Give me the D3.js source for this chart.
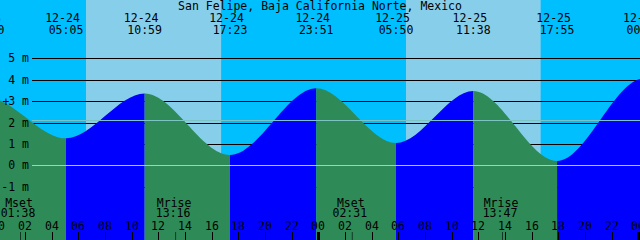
<!DOCTYPE html>
<html>
<head>
<meta charset="utf-8">
<script src="https://cdn.jsdelivr.net/npm/d3@7"></script>
<style>
body { margin: 0; background: #fff; }
svg { display: block; }
text { font-family: "DejaVu Sans Mono", monospace; font-size: 11.5px; fill: #000; }
</style>
</head>
<body>
<div id="chart"></div>
<script>
const title = "San Felipe, Baja California Norte, Mexico"

// tide extremes (high / low), incl. ones just off the edges
const tideTimes = ["2023-12-23 17:00", "2023-12-23 23:10", "2023-12-24 05:05", "2023-12-24 10:59", "2023-12-24 17:23",
                   "2023-12-24 23:51", "2023-12-25 05:50", "2023-12-25 11:38", "2023-12-25 17:55", "2023-12-26 00:25",
                   "2023-12-26 06:40"]
const tideHeights = [0.6, 3.17, 1.26, 3.35, 0.48, 3.6, 1.04, 3.47, 0.2, 4.05, 1.2]

const sunrises = ["2023-12-24 06:35", "2023-12-25 06:35"]
const sunsets = ["2023-12-24 16:43", "2023-12-25 16:41"]

const moonTimes = ["2023-12-24 01:38", "2023-12-24 13:16", "2023-12-25 02:31", "2023-12-25 13:47"]
const moonEvents = ["Mset", "Mrise", "Mset", "Mrise"]

const depthTicks = [-1, 0, 1, 2, 3, 4, 5]
const meanLevel = 2.12

const width = 640
const height = 240
const parse = d3.timeParse("%Y-%m-%d %H:%M")

const tides = tideTimes.map((t, i) => ({ time: parse(t), level: tideHeights[i] }))

const x = d3.scaleTime()
    .domain([parse("2023-12-24 00:08"), parse("2023-12-26 00:08")])
    .range([0, width])

const y = d3.scaleLinear()
    .domain([0, 5])
    .range([165.3, 58.3])

const svg = d3.select("#chart")
    .append("svg")
    .attr("width", width)
    .attr("height", height)
    .attr("viewBox", [0, 0, width, height])

// sky: night everywhere, day between sunrise and sunset
svg.append("rect")
    .attr("width", width)
    .attr("height", height)
    .attr("fill", "#00bfff")

svg.append("g")
    .selectAll("rect")
    .data(sunrises)
    .join("rect")
    .attr("x", d => x(parse(d)))
    .attr("y", 0)
    .attr("width", (d, i) => x(parse(sunsets[i])) - x(parse(d)))
    .attr("height", height)
    .attr("fill", "#87ceeb")

// depth lines (hidden by the water)
svg.append("g")
    .selectAll("line")
    .data(depthTicks.filter(d => d !== 0))
    .join("line")
    .attr("x1", 32)
    .attr("x2", width)
    .attr("y1", d => Math.round(y(d)) + 0.5)
    .attr("y2", d => Math.round(y(d)) + 0.5)
    .attr("stroke", "#000")

// water: one area, clipped into rising (blue) and falling (green) pieces
const area = d3.area()
    .x(d => x(d.time))
    .y0(height)
    .y1(d => y(d.level))
    .curve(d3.curveMonotoneX)

const segments = d3.pairs(tides)
const defs = svg.append("defs")
segments.forEach((s, i) => {
    defs.append("clipPath")
        .attr("id", "seg" + i)
        .append("rect")
        .attr("x", x(s[0].time))
        .attr("y", 0)
        .attr("width", x(s[1].time) - x(s[0].time))
        .attr("height", height)
})

svg.append("g")
    .selectAll("path")
    .data(segments)
    .join("path")
    .attr("d", area(tides))
    .attr("clip-path", (d, i) => `url(#seg${i})`)
    .attr("fill", d => d[1].level > d[0].level ? "#0000ff" : "#2e8b57")

// datum and mean level lines
svg.append("line")
    .attr("x1", 32).attr("x2", width)
    .attr("y1", Math.round(y(0)) + 0.5).attr("y2", Math.round(y(0)) + 0.5)
    .attr("stroke", "#8fd3e6")

svg.append("line")
    .attr("x1", 32).attr("x2", width)
    .attr("y1", Math.round(y(meanLevel)) + 0.5).attr("y2", Math.round(y(meanLevel)) + 0.5)
    .attr("stroke", "#7cc4c4")

// depth labels
svg.append("g")
    .selectAll("text")
    .data(depthTicks)
    .join("text")
    .attr("x", 29)
    .attr("y", d => y(d) + 4)
    .attr("text-anchor", "end")
    .text(d => d + " m")

svg.append("text")
    .attr("x", 6)
    .attr("y", y(3) + 5)
    .attr("text-anchor", "middle")
    .text("+")

// title
svg.append("text")
    .attr("x", width / 2)
    .attr("y", 9.5)
    .attr("text-anchor", "middle")
    .text(title)

// tide event labels
const fmtDate = d3.timeFormat("%m-%d")
const fmtTime = d3.timeFormat("%H:%M")
const shown = tides.filter(d => x(d.time) > -40 && x(d.time) < width + 40)

const tideLabels = svg.append("g")
    .selectAll("g")
    .data(shown)
    .join("g")
    .attr("transform", d => `translate(${x(d.time)},0)`)

tideLabels.append("text")
    .attr("x", -3.5)
    .attr("y", 22)
    .attr("text-anchor", "middle")
    .text(d => fmtDate(d.time))

tideLabels.append("text")
    .attr("y", 34)
    .attr("text-anchor", "middle")
    .text(d => fmtTime(d.time))

// moon events
const moon = svg.append("g")
    .selectAll("g")
    .data(moonTimes)
    .join("g")
    .attr("transform", d => `translate(${x(parse(d))},0)`)

moon.append("text")
    .attr("x", -1)
    .attr("y", 207)
    .attr("text-anchor", "middle")
    .text((d, i) => moonEvents[i])

moon.append("text")
    .attr("x", -2)
    .attr("y", 217)
    .attr("text-anchor", "middle")
    .text(d => fmtTime(parse(d)))

moon.append("line")
    .attr("x1", 0.5).attr("x2", 0.5)
    .attr("y1", 232).attr("y2", height)
    .attr("stroke", "#000")
    .attr("stroke-opacity", 0.6)

// hour ticks
const hours = d3.timeHour.every(2).range(parse("2023-12-24 00:00"), parse("2023-12-26 01:00"))
const hourTicks = svg.append("g")
    .selectAll("g")
    .data(hours)
    .join("g")
    .attr("transform", d => `translate(${Math.round(x(d))},0)`)

hourTicks.append("text")
    .attr("y", 229.5)
    .attr("text-anchor", "middle")
    .text(d => d3.timeFormat("%H")(d))

hourTicks.append("line")
    .attr("x1", 0.5).attr("x2", 0.5)
    .attr("y1", 232).attr("y2", height)
    .attr("stroke", "#000")
    .attr("stroke-width", d => d.getHours() === 0 ? 3 : 1)
</script>
</body>
</html>
